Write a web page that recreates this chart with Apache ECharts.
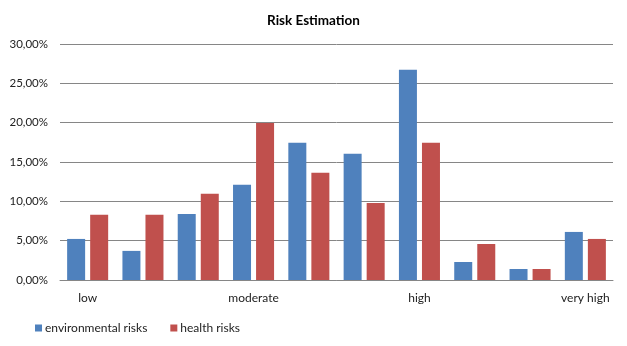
<!DOCTYPE html>
<html>
<head>
<meta charset="utf-8">
<script src="https://cdn.jsdelivr.net/npm/echarts@6/dist/echarts.min.js"></script>
<style>
  html, body { margin: 0; padding: 0; background: #fff; }
  #chart { width: 627px; height: 346px; }
</style>
</head>
<body>
<div id="chart"></div>
<script>
// Risk levels on the category axis (only every third one is labelled)
const categories = ['low', '', '', 'moderate', '', '', 'high', '', '', 'very high'];
// Share of answers per level, in percent
const environmentalRisks = [5.22, 3.70, 8.40, 12.10, 17.44, 16.04, 26.73, 2.29, 1.40, 6.11];
const healthRisks = [8.30, 8.30, 10.95, 19.95, 13.62, 9.80, 17.44, 4.58, 1.40, 5.22];
const yTicks = [0, 5, 10, 15, 20, 25, 30];

const font = 'Lato, "Open Sans", sans-serif';
const chart = echarts.init(document.getElementById('chart'));

chart.setOption({
  animation: false,
  title: {
    text: 'Risk Estimation',
    left: 'center',
    top: 9,
    textStyle: { fontFamily: font, fontSize: 13.5, fontWeight: 'bold', color: '#000' }
  },
  legend: {
    left: 30,
    top: 317,
    itemWidth: 7,
    itemHeight: 7,
    itemGap: 23,
    icon: 'rect',
    textStyle: { fontFamily: font, fontSize: 12, color: '#222', padding: [0, 0, 0, -2] },
    data: ['environmental risks', 'health risks']
  },
  grid: { left: 60, right: 14, top: 44, bottom: 66 },
  xAxis: {
    type: 'category',
    data: categories,
    axisTick: { show: false },
    axisLine: { lineStyle: { color: '#868686' } },
    axisLabel: {
      interval: 0,
      margin: 12,
      fontFamily: font,
      fontSize: 12,
      color: '#222'
    }
  },
  yAxis: {
    type: 'value',
    min: yTicks[0],
    max: yTicks[yTicks.length - 1],
    interval: 5,
    axisLine: { show: false },
    axisTick: { show: false },
    splitLine: { lineStyle: { color: '#868686' } },
    axisLabel: {
      margin: 12,
      fontFamily: font,
      fontSize: 11.5,
      color: '#222',
      formatter: v => v.toFixed(2).replace('.', ',') + '%'
    }
  },
  series: [
    {
      name: 'environmental risks',
      type: 'bar',
      data: environmentalRisks,
      barWidth: 18,
      barGap: '28%',
      itemStyle: { color: '#4f81bd' }
    },
    {
      name: 'health risks',
      type: 'bar',
      data: healthRisks,
      barWidth: 18,
      barGap: '28%',
      itemStyle: { color: '#c0504d' }
    }
  ]
});
</script>
</body>
</html>
